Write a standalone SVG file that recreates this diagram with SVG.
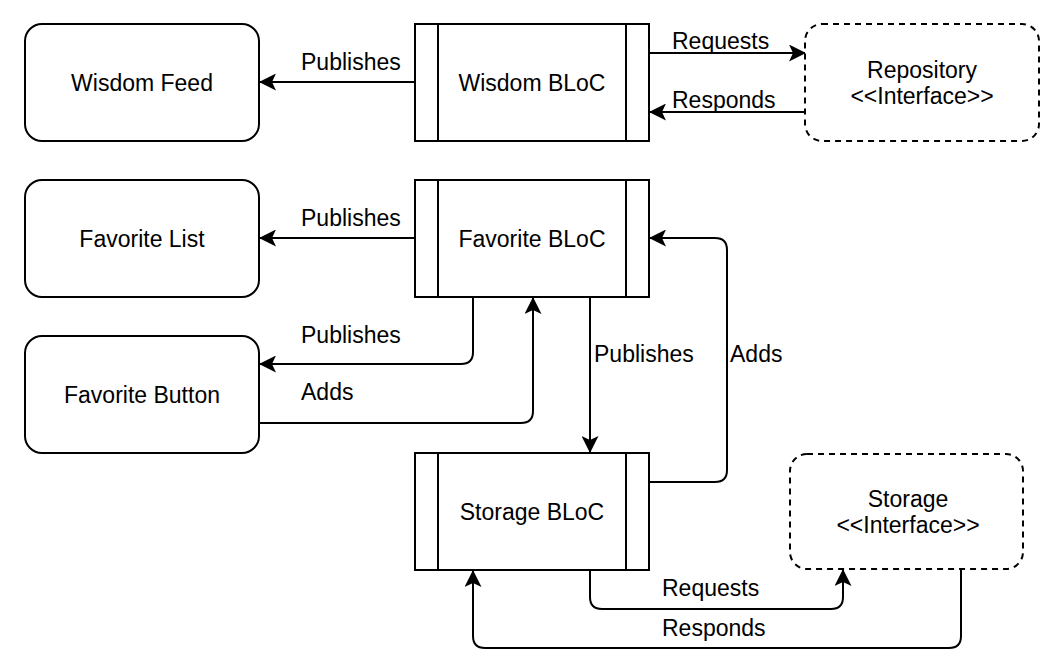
<svg xmlns="http://www.w3.org/2000/svg" width="1061" height="663" viewBox="0 0 1061 663">
<style>
.box{fill:#fff;stroke:#000;stroke-width:2}
.dash{fill:#fff;stroke:#000;stroke-width:2;stroke-dasharray:6 5}
.t{font-family:"Liberation Sans",Arial,sans-serif;font-size:23px;fill:#000;text-anchor:middle}
.l{font-family:"Liberation Sans",Arial,sans-serif;font-size:23px;fill:#000}
.e{fill:none;stroke:#000;stroke-width:2;marker-end:url(#arr)}
</style>
<defs>
<marker id="arr" viewBox="0 0 17 17" refX="16" refY="8.5" markerWidth="17" markerHeight="17" markerUnits="userSpaceOnUse" orient="auto">
<path d="M17,8.5 L0,0 L4,8.5 L0,17 Z" fill="#000"/>
</marker>
</defs>
<rect width="1061" height="663" fill="#fff"/>
<g id="connectors">
<path class="e" d="M415,82 H260"/>
<path class="e" d="M649,53 H805"/>
<path class="e" d="M805,112 H650"/>
<path class="e" d="M415,238 H260"/>
<path class="e" d="M473,297 V352 Q473,364 461,364 H260"/>
<path class="e" d="M259,423 H521 Q533,423 533,411 V298"/>
<path class="e" d="M590,297 V452"/>
<path class="e" d="M649,482 H715 Q727,482 727,470 V250 Q727,238 715,238 H650"/>
<path class="e" d="M590,570 V597 Q590,609 602,609 H831 Q843,609 843,597 V570"/>
<path class="e" d="M961,569 V636 Q961,648 949,648 H485 Q473,648 473,636 V571"/>
<text class="l" x="301" y="70">Publishes</text>
<text class="l" x="672" y="49">Requests</text>
<text class="l" x="672" y="108">Responds</text>
<text class="l" x="301" y="226">Publishes</text>
<text class="l" x="301" y="343">Publishes</text>
<text class="l" x="301" y="400">Adds</text>
<text class="l" x="594" y="362">Publishes</text>
<text class="l" x="730" y="362">Adds</text>
<text class="l" x="662" y="596">Requests</text>
<text class="l" x="662" y="636">Responds</text>
</g>
<g id="wisdom-feed">
<rect class="box" x="25" y="24" width="234" height="117" rx="17"/>
<text class="t" x="142" y="91">Wisdom Feed</text>
</g>
<g id="wisdom-bloc">
<rect class="box" x="415" y="24" width="234" height="117"/>
<path d="M438,24 V141 M626,24 V141" stroke="#000" stroke-width="2"/>
<text class="t" x="532" y="91">Wisdom BLoC</text>
</g>
<g id="repository">
<rect class="dash" x="805" y="24" width="234" height="117" rx="17"/>
<text class="t" x="922" y="78">Repository</text>
<text class="t" x="922" y="104">&lt;&lt;Interface&gt;&gt;</text>
</g>
<g id="favorite-list">
<rect class="box" x="25" y="180" width="234" height="117" rx="17"/>
<text class="t" x="142" y="247">Favorite List</text>
</g>
<g id="favorite-bloc">
<rect class="box" x="415" y="180" width="234" height="117"/>
<path d="M438,180 V297 M626,180 V297" stroke="#000" stroke-width="2"/>
<text class="t" x="532" y="247">Favorite BLoC</text>
</g>
<g id="favorite-button">
<rect class="box" x="25" y="336" width="234" height="117" rx="17"/>
<text class="t" x="142" y="403">Favorite Button</text>
</g>
<g id="storage-bloc">
<rect class="box" x="415" y="453" width="234" height="117"/>
<path d="M438,453 V570 M626,453 V570" stroke="#000" stroke-width="2"/>
<text class="t" x="532" y="520">Storage BLoC</text>
</g>
<g id="storage-interface">
<rect class="dash" x="790" y="454" width="233" height="115" rx="17"/>
<text class="t" x="908" y="507">Storage</text>
<text class="t" x="908" y="533">&lt;&lt;Interface&gt;&gt;</text>
</g>
</svg>
